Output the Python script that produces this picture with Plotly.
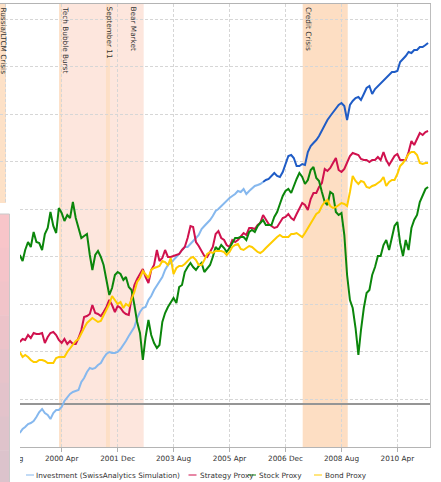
import plotly.graph_objects as go
import pandas as pd

# ---------------- data ----------------
dates = pd.date_range("1999-01-01", periods=147, freq="MS")
sim_end = 88  # investment values up to 2006-04 are simulated

investment = [-29, -25, -23, -20, -19, -17, -13, -8, -5, -9,
              -11, -15, -9, -6, -6, -3, 3, 7, 10, 12,
              13, 14, 22, 26, 32, 36, 35, 36, 39, 41,
              46, 50, 52, 51, 51, 52, 55, 59, 63, 68,
              73, 77, 86, 92, 96, 97, 104, 108, 114, 119,
              122, 127, 134, 139, 141, 144, 147, 150, 154, 157,
              157, 160, 162, 166, 169, 175, 178, 181, 184, 188,
              193, 195, 198, 200, 203, 206, 208, 210, 213, 212,
              215, 210, 213, 216, 218, 219, 220, 222, 224, 225,
              228, 231, 228, 227, 232, 241, 248, 249, 246, 238,
              238, 240, 239, 252, 258, 261, 264, 268, 274, 280,
              284, 288, 292, 296, 299, 301, 298, 284, 299, 303,
              306, 307, 304, 310, 316, 318, 310, 315, 318, 321,
              324, 327, 330, 332, 332, 333, 342, 345, 348, 352,
              351, 354, 354, 357, 357, 359, 361]

strategy = [62, 65, 64, 69, 66, 71, 70, 70, 71, 61,
            67, 71, 72, 69, 64, 61, 65, 60, 63, 60,
            60, 66, 74, 87, 88, 90, 99, 91, 90, 88,
            92, 97, 104, 99, 92, 98, 96, 92, 90, 89,
            106, 119, 125, 130, 135, 127, 121, 134, 139, 154,
            143, 146, 154, 147, 147, 148, 149, 150, 154, 157,
            166, 178, 177, 162, 158, 153, 148, 147, 152, 157,
            170, 173, 166, 164, 159, 157, 164, 162, 164, 168,
            171, 169, 176, 176, 175, 179, 181, 189, 184, 180,
            178, 176, 177, 182, 186, 187, 190, 186, 184, 190,
            196, 201, 199, 194, 205, 211, 211, 217, 221, 235,
            233, 236, 241, 246, 234, 232, 235, 242, 248, 251,
            250, 249, 245, 244, 244, 242, 244, 244, 247, 244,
            252, 244, 239, 244, 248, 250, 244, 244, 244, 252,
            263, 259, 266, 271, 269, 272, 273]

stock = [149, 143, 154, 162, 157, 172, 162, 161, 154, 170,
         176, 192, 178, 171, 196, 191, 183, 189, 186, 202,
         186, 176, 166, 168, 170, 149, 134, 149, 153, 147,
         139, 124, 109, 116, 129, 132, 130, 124, 127, 117,
         114, 99, 82, 71, 44, 67, 84, 69, 61, 56,
         59, 82, 91, 97, 102, 106, 101, 117, 119, 132,
         137, 141, 137, 134, 138, 141, 132, 136, 139, 147,
         157, 154, 159, 156, 152, 156, 161, 166, 166, 167,
         167, 164, 172, 174, 172, 178, 181, 184, 179, 179,
         179, 187, 192, 200, 208, 213, 215, 211, 218, 225,
         231, 227, 220, 224, 234, 237, 226, 223, 212, 202,
         199, 212, 210, 192, 189, 191, 169, 129, 104, 96,
         76, 49, 74, 96, 111, 114, 129, 137, 148, 148,
         159, 164, 154, 166, 178, 182, 161, 148, 164, 154,
         176, 184, 189, 202, 209, 215, 217]

bond = [52, 47, 49, 47, 44, 42, 42, 44, 44, 43,
        41, 41, 41, 46, 47, 47, 47, 52, 56, 60,
        63, 65, 71, 76, 81, 84, 86, 84, 82, 83,
        89, 94, 100, 108, 104, 100, 102, 96, 100, 98,
        105, 112, 122, 126, 133, 129, 126, 134, 136, 137,
        138, 143, 142, 139, 146, 130, 136, 138, 138, 140,
        143, 146, 147, 144, 139, 139, 144, 150, 152, 151,
        153, 153, 153, 152, 149, 152, 157, 159, 160, 155,
        154, 156, 158, 157, 154, 152, 151, 153, 156, 159,
        162, 164, 167, 169, 167, 167, 167, 170, 170, 171,
        169, 167, 171, 176, 181, 185, 190, 192, 198, 202,
        204, 198, 196, 197, 199, 201, 200, 198, 212, 228,
        223, 220, 223, 222, 217, 216, 218, 219, 221, 223,
        227, 218, 222, 224, 224, 230, 238, 241, 245, 250,
        252, 252, 249, 241, 240, 241, 241]

tick_dates = ["1998-08-01", "2000-04-01", "2001-12-01", "2003-08-01",
              "2005-04-01", "2006-12-01", "2008-08-01", "2010-04-01"]
tick_labels = ["1998 Aug", "2000 Apr", "2001 Dec", "2003 Aug",
               "2005 Apr", "2006 Dec", "2008 Aug", "2010 Apr"]

event_names = ["Bear Market", "Russia/LTCM Crisis", "Tech Bubble Burst",
               "September 11", "Credit Crisis"]
event_starts = ["2000-03-21", "1998-05-01", "2000-03-04", "2001-07-27", "2007-06-06"]
event_ends = ["2002-09-10", "1998-08-04", "2000-03-31", "2001-09-08", "2008-10-08"]
event_label_at = ["2002-05-27", "1998-07-03", "2000-05-17", "2001-09-02", "2007-08-04"]

series_names = ["Investment (SwissAnalytics Simulation)", "Strategy Proxy",
                "Stock Proxy", "Bond Proxy"]

# ---------------- styling ----------------
C_SIM = "#86b8ee"
C_ACT = "#1f5cc6"
C_STRAT = "#d0124e"
C_STOCK = "#0b860b"
C_BOND = "#ffcc00"
FONT = "DejaVu Sans"
FS = 7.3

W, H = 441, 482
PL, PR, PT, PB = 0, 11, 4, 35
pw, ph = W - PL - PR, H - PT - PB


def px_x(px):
    return (px - PL) / pw


def px_y(py):
    return (H - PB - py) / ph


fig = go.Figure()
fig.add_trace(go.Scatter(x=dates[:sim_end], y=investment[:sim_end], mode="lines",
                         line=dict(color=C_SIM, width=2), name=series_names[0],
                         showlegend=False))
fig.add_trace(go.Scatter(x=dates[sim_end - 1:], y=investment[sim_end - 1:], mode="lines",
                         line=dict(color=C_ACT, width=2), name="Investment",
                         showlegend=False))
fig.add_trace(go.Scatter(x=dates, y=strategy, mode="lines",
                         line=dict(color=C_STRAT, width=2), name=series_names[1],
                         showlegend=False))
fig.add_trace(go.Scatter(x=dates, y=stock, mode="lines",
                         line=dict(color=C_STOCK, width=2), name=series_names[2],
                         showlegend=False))
fig.add_trace(go.Scatter(x=dates, y=bond, mode="lines",
                         line=dict(color=C_BOND, width=2), name=series_names[3],
                         showlegend=False))

shapes = []
annotations = []
band_colors = ["#fde6dd", "#fde1c7", "#fddfc6", "#fddfc6", "#fddec3"]
for name, s, e, lab, col in zip(event_names, event_starts, event_ends, event_label_at, band_colors):
    shapes.append(dict(type="rect", xref="x", yref="paper", x0=s, x1=e, y0=0, y1=1,
                       fillcolor=col, line=dict(width=0), layer="below"))
    annotations.append(dict(x=lab, xref="x", y=px_y(5), yref="paper", text=name,
                            textangle=90, showarrow=False, xanchor="center", yanchor="top",
                            font=dict(family=FONT, size=FS, color="#333333")))

# left-side overlay panel (white area + pink box)
shapes.append(dict(type="rect", xref="paper", yref="paper", x0=px_x(-40), x1=px_x(20),
                   y0=px_y(490), y1=px_y(203), fillcolor="white", line=dict(width=0),
                   layer="above"))
grad = ["#f8c5c9", "#f5c4c9", "#f1c4c9", "#ecc3c9", "#e7c3ca", "#e3c3cb", "#dfc3cb", "#dcc3cc"]
top, bot = 214, 484
step = (bot - top) / len(grad)
for k, col in enumerate(grad):
    shapes.append(dict(type="rect", xref="paper", yref="paper", x0=px_x(-2), x1=px_x(9.5),
                       y0=px_y(top + (k + 1) * step + 0.5), y1=px_y(top + k * step),
                       fillcolor=col, line=dict(width=0), layer="above"))
shapes.append(dict(type="path", xref="paper", yref="paper",
                   path=f"M {px_x(-2)},{px_y(214)} L {px_x(9.5)},{px_y(214)} L {px_x(9.5)},{px_y(484)}",
                   line=dict(color="#c9c9c9", width=1), layer="above"))

# manual legend
leg_y = px_y(475)
leg_items = [(series_names[0], C_SIM, 26, 35),
             (series_names[1], C_STRAT, 188.5, 198.5),
             (series_names[2], C_STOCK, 248, 257.5),
             (series_names[3], C_BOND, 314, 324)]
for name, col, sx, tx in leg_items:
    shapes.append(dict(type="line", xref="paper", yref="paper", x0=px_x(sx), x1=px_x(sx + 8),
                       y0=leg_y, y1=leg_y, line=dict(color=col, width=2), opacity=0.5,
                       layer="above"))
    annotations.append(dict(x=px_x(tx), xref="paper", y=leg_y, yref="paper", text=name,
                            showarrow=False, xanchor="left", yanchor="middle",
                            font=dict(family=FONT, size=FS, color="#333333"), borderpad=0))

fig.update_layout(
    width=W, height=H, autosize=False,
    margin=dict(l=PL, r=PR, t=PT, b=PB, pad=0, autoexpand=False),
    paper_bgcolor="white", plot_bgcolor="white",
    showlegend=False, shapes=shapes, annotations=annotations,
    font=dict(family=FONT, size=FS, color="#333333"),
)
fig.update_xaxes(range=["1998-05-31", "2011-03-22"], tickmode="array",
                 tickvals=tick_dates, ticktext=tick_labels, automargin=False,
                 showgrid=True, gridcolor="#d6d6d6", griddash="3px,2px", gridwidth=1,
                 ticks="outside", ticklen=4, tickcolor="#b0b0b0",
                 showline=True, linecolor="#b4b4b4", linewidth=1, mirror=True,
                 zeroline=False, ticklabeloverflow="allow",
                 tickfont=dict(family=FONT, size=FS, color="#333333"))
fig.update_yaxes(range=[-43, 400], tick0=5, dtick=47.5, showticklabels=False,
                 automargin=False,
                 showgrid=True, gridcolor="#d6d6d6", griddash="3px,2px", gridwidth=1,
                 zeroline=True, zerolinecolor="#959595", zerolinewidth=1.5,
                 showline=True, linecolor="#bdbdbd", side="right", ticks="")

fig.write_html("out.html", config={"displayModeBar": False},
               post_script="document.body.style.margin='0';document.body.style.padding='0';")
